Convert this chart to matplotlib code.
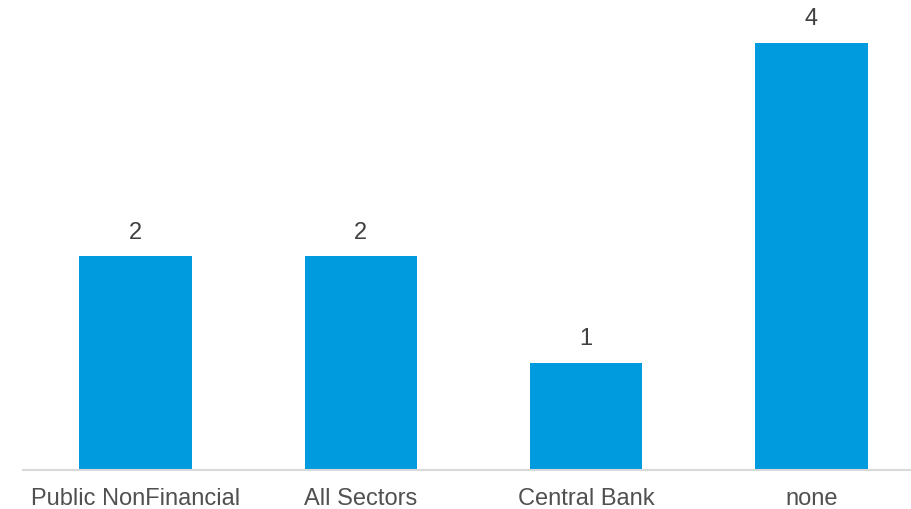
import matplotlib
matplotlib.use("Agg")
import matplotlib.pyplot as plt

categories = ["Public NonFinancial", "All Sectors", "Central Bank", "none"]
values = [2, 2, 1, 4]

plt.rcParams['font.family'] = ['Liberation Sans', 'DejaVu Sans']

fig = plt.figure(figsize=(9.12, 5.09), dpi=100)
ax = fig.add_axes([23/912, 39/509, 901/912, 470/509])
x = list(range(len(categories)))
ax.bar(x, values, width=0.5, color="#009ADE", zorder=2)
ax.set_xlim(-0.5, len(categories) - 0.5)
ax.set_ylim(0, 4.4)
for xi, v in zip(x, values):
    ax.text(xi, v + 0.12, str(v), ha="center", va="bottom", fontsize=17, color="#404040")
ax.set_xticks(x)
ax.set_xticklabels(categories, fontsize=17, color="#505050")
ax.tick_params(axis="x", length=0, pad=13)
ax.set_yticks([])
for s in ["top", "right", "left"]:
    ax.spines[s].set_visible(False)
ax.spines["bottom"].set_color("#D9D9D9")
ax.spines["bottom"].set_linewidth(1.5)
fig.savefig("out.png", dpi=100)
